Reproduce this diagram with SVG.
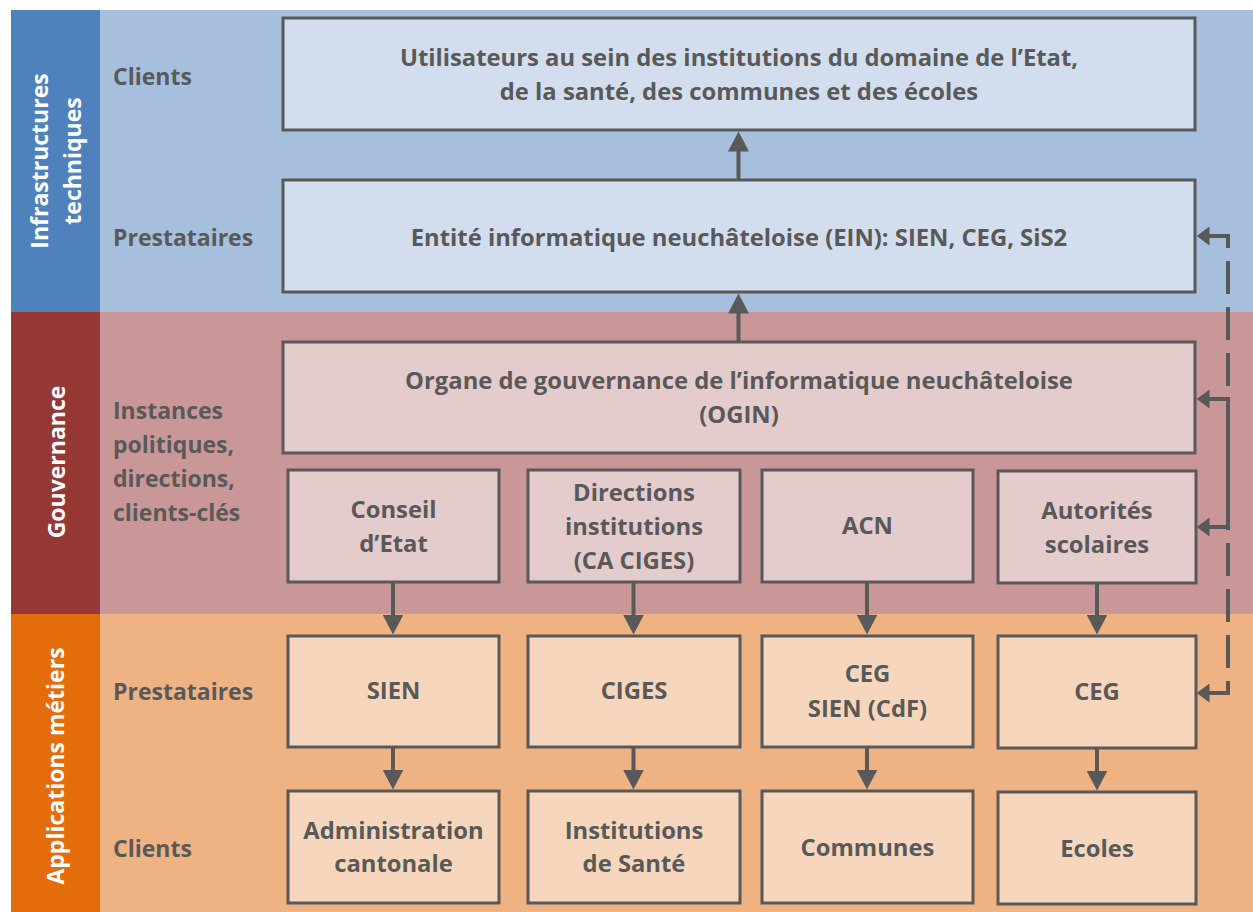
<svg xmlns="http://www.w3.org/2000/svg" width="1253" height="912" viewBox="0 0 1253 912">
<defs>
<style>
text{font-family:"Open Sans","Liberation Sans",sans-serif;font-weight:bold;font-size:23px;fill:#595959}
.c{text-anchor:middle;font-size:23.8px}
.w{fill:#ffffff;text-anchor:middle}
.box{stroke:#595959;stroke-width:3}
.b{fill:#D2DEEE}
.p{fill:#E4CBCC}
.o{fill:#F6D7BD}
.ln{stroke:#595959;stroke-width:4;fill:none}
.dash{stroke:#595959;stroke-width:4;fill:none;stroke-dasharray:33 13}
</style>
<marker id="arr" viewBox="0 0 20 21" refX="10" refY="10.5" markerWidth="20" markerHeight="21" markerUnits="userSpaceOnUse" orient="auto">
<path d="M0,0 L20,10.5 L0,21 z" fill="#595959"/>
</marker>
<marker id="arrs" viewBox="0 0 13 19" refX="6.5" refY="9.5" markerWidth="13" markerHeight="19" markerUnits="userSpaceOnUse" orient="auto">
<path d="M0,0 L13,9.5 L0,19 z" fill="#595959"/>
</marker>
</defs>

<g id="bands">
<rect x="100" y="10" width="1153" height="302" fill="#A6BFDD"/>
<rect x="100" y="312" width="1153" height="302" fill="#C99798"/>
<rect x="100" y="614" width="1153" height="298" fill="#EFB282"/>
<rect x="11" y="10" width="89" height="302" fill="#4F81BD"/>
<rect x="11" y="312" width="89" height="302" fill="#953735"/>
<rect x="11" y="614" width="89" height="298" fill="#E46C0A"/>
</g>

<g id="band-labels">
<g transform="translate(0,161) rotate(-90)">
<text class="w" x="0" y="48">Infrastructures</text>
<text class="w" x="0" y="81">techniques</text>
</g>
<text class="w" transform="translate(0,462) rotate(-90)" x="0" y="65">Gouvernance</text>
<text class="w" transform="translate(0,766) rotate(-90)" x="0" y="64">Applications métiers</text>
</g>

<g id="row-labels">
<text x="113" y="85">Clients</text>
<text x="113" y="246">Prestataires</text>
<text x="113" y="419">Instances</text>
<text x="113" y="453">politiques,</text>
<text x="113" y="487">directions,</text>
<text x="113" y="521">clients-clés</text>
<text x="113" y="700">Prestataires</text>
<text x="113" y="857">Clients</text>
</g>

<g id="connectors">
<line class="ln" x1="738.5" y1="180" x2="738.5" y2="141.5" marker-end="url(#arr)"/>
<line class="ln" x1="738.5" y1="342" x2="738.5" y2="303.5" marker-end="url(#arr)"/>
<line class="ln" x1="393" y1="582" x2="393" y2="624.5" marker-end="url(#arr)"/>
<line class="ln" x1="633.5" y1="582" x2="633.5" y2="624.5" marker-end="url(#arr)"/>
<line class="ln" x1="867" y1="582" x2="867" y2="624.5" marker-end="url(#arr)"/>
<line class="ln" x1="1097" y1="583" x2="1097" y2="624.5" marker-end="url(#arr)"/>
<line class="ln" x1="393" y1="747" x2="393" y2="779.5" marker-end="url(#arr)"/>
<line class="ln" x1="633.5" y1="747" x2="633.5" y2="779.5" marker-end="url(#arr)"/>
<line class="ln" x1="867" y1="747" x2="867" y2="779.5" marker-end="url(#arr)"/>
<line class="ln" x1="1097" y1="748" x2="1097" y2="780.5" marker-end="url(#arr)"/>
<path class="dash" d="M1207,236 H1228 V399"/>
<path class="ln" d="M1228,399 V527"/>
<path class="dash" d="M1207,693 H1228 V527"/>
<line class="ln" x1="1230" y1="236" x2="1203" y2="236" marker-end="url(#arrs)"/>
<line class="ln" x1="1230" y1="399" x2="1203" y2="399" marker-end="url(#arrs)"/>
<line class="ln" x1="1230" y1="527" x2="1203" y2="527" marker-end="url(#arrs)"/>
<line class="ln" x1="1230" y1="693" x2="1203" y2="693" marker-end="url(#arrs)"/>
</g>

<g id="n-utilisateurs">
<rect class="box b" x="283" y="18" width="912" height="112"/>
<text class="c" x="739" y="66">Utilisateurs au sein des institutions du domaine de l’Etat,</text>
<text class="c" x="739" y="100">de la santé, des communes et des écoles</text>
</g>
<g id="n-ein">
<rect class="box b" x="283" y="180" width="912" height="112"/>
<text class="c" x="739" y="246">Entité informatique neuchâteloise (EIN): SIEN, CEG, SiS2</text>
</g>
<g id="n-ogin">
<rect class="box p" x="283" y="342" width="912" height="111"/>
<text class="c" x="739" y="389">Organe de gouvernance de l’informatique neuchâteloise</text>
<text class="c" x="739" y="423">(OGIN)</text>
</g>
<g id="n-conseil">
<rect class="box p" x="288" y="470" width="211" height="112"/>
<text class="c" x="393.5" y="518">Conseil</text>
<text class="c" x="393.5" y="552">d’Etat</text>
</g>
<g id="n-directions">
<rect class="box p" x="528" y="470" width="212" height="112"/>
<text class="c" x="634" y="501">Directions</text>
<text class="c" x="634" y="535">institutions</text>
<text class="c" x="634" y="569">(CA CIGES)</text>
</g>
<g id="n-acn">
<rect class="box p" x="762" y="470" width="211" height="112"/>
<text class="c" x="867.5" y="534">ACN</text>
</g>
<g id="n-autorites">
<rect class="box p" x="998" y="471" width="198" height="112"/>
<text class="c" x="1097" y="519">Autorités</text>
<text class="c" x="1097" y="553">scolaires</text>
</g>
<g id="n-sien">
<rect class="box o" x="288" y="636" width="211" height="111"/>
<text class="c" x="393.5" y="699">SIEN</text>
</g>
<g id="n-ciges">
<rect class="box o" x="528" y="636" width="212" height="111"/>
<text class="c" x="634" y="699">CIGES</text>
</g>
<g id="n-ceg-sien">
<rect class="box o" x="762" y="636" width="211" height="111"/>
<text class="c" x="867.5" y="682">CEG</text>
<text class="c" x="867.5" y="717">SIEN (CdF)</text>
</g>
<g id="n-ceg">
<rect class="box o" x="998" y="636" width="198" height="112"/>
<text class="c" x="1097" y="700">CEG</text>
</g>
<g id="n-admin">
<rect class="box o" x="288" y="791" width="211" height="112"/>
<text class="c" x="393.5" y="839">Administration</text>
<text class="c" x="393.5" y="872">cantonale</text>
</g>
<g id="n-sante">
<rect class="box o" x="528" y="791" width="212" height="112"/>
<text class="c" x="634" y="839">Institutions</text>
<text class="c" x="634" y="872">de Santé</text>
</g>
<g id="n-communes">
<rect class="box o" x="762" y="791" width="211" height="112"/>
<text class="c" x="867.5" y="856">Communes</text>
</g>
<g id="n-ecoles">
<rect class="box o" x="998" y="792" width="198" height="112"/>
<text class="c" x="1097" y="857">Ecoles</text>
</g>
</svg>
